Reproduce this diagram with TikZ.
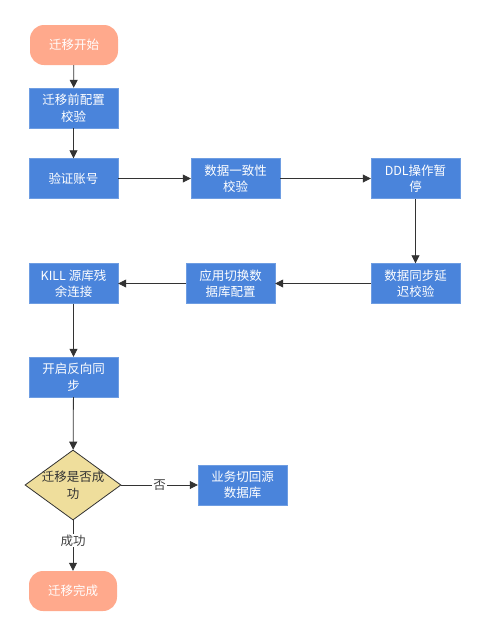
\documentclass[tikz,border=0pt]{standalone}
\usepackage{fontspec}
\setmainfont{Noto Sans CJK SC}
\usetikzlibrary{positioning,arrows.meta,shapes.geometric}
\definecolor{boxblue}{HTML}{4A84DB}
\definecolor{salmon}{HTML}{FFA98C}
\definecolor{khaki}{HTML}{EFDE9C}
\definecolor{linegray}{HTML}{333333}

\begin{document}
\begin{tikzpicture}[x=1pt,y=-1pt,>={Triangle[length=8pt,width=8pt]},
                    every node/.style={font=\fontsize{12.5}{16.5}\selectfont,align=center,inner sep=1pt},
                    stepbox/.style={rectangle,fill=boxblue,draw=boxblue!80!white,text=white,minimum width=89pt,minimum height=40pt},
                    terminal/.style={rectangle,rounded corners=14pt,fill=salmon,text=white,minimum width=88pt,minimum height=40pt},
                    decision/.style={diamond,fill=khaki,draw=linegray,thick,text=black!80,minimum width=96pt,minimum height=70pt,aspect=1.37,inner sep=-2.5pt},
                    flow/.style={draw=linegray,thick,->},
                    tag/.style={fill=white,text=black!75,inner sep=1pt}]
    \useasboundingbox (0,0) rectangle (485,635);
    %Nodes
        \node[terminal] (start) at (74,45) {迁移开始};
        \node[stepbox] (precheck) at (73.5,108) {迁移前配置\\校验};
        \node[stepbox] (account) at (73.5,178.5) {验证账号};
        \node[stepbox] (consist) at (235.5,178.5) {数据一致性\\校验};
        \node[stepbox] (ddl) at (415.5,178.5) {DDL操作暂\\停};
        \node[stepbox] (delay) at (415.5,283.5) {数据同步延\\迟校验};
        \node[stepbox] (switch) at (230.5,283.5) {应用切换数\\据库配置};
        \node[stepbox] (kill) at (73.5,283.5) {KILL 源库残\\余连接};
        \node[stepbox] (reverse) at (73.5,377) {开启反向同\\步};
        \node[decision] (ok) at (73,485) {迁移是否成\\功};
        \node[stepbox] (back) at (242.5,485) {业务切回源\\数据库};
        \node[terminal] (done) at (73,591) {迁移完成};

    %Lines
        \draw[flow] (start) -- (precheck);
        \draw[flow] (precheck) -- (account);
        \draw[flow] (account) -- (consist);
        \draw[flow] (consist) -- (ddl);
        \draw[flow] (ddl) -- (delay);
        \draw[flow] (delay) -- (switch);
        \draw[flow] (switch) -- (kill);
        \draw[flow] (kill) -- (reverse);
        \draw[flow] (reverse) -- (ok);
        \draw[flow] (ok) -- node[tag] {否} (back);
        \draw[flow] (ok) -- node[tag,pos=0.4] {成功} (done);
\end{tikzpicture}
\end{document}
